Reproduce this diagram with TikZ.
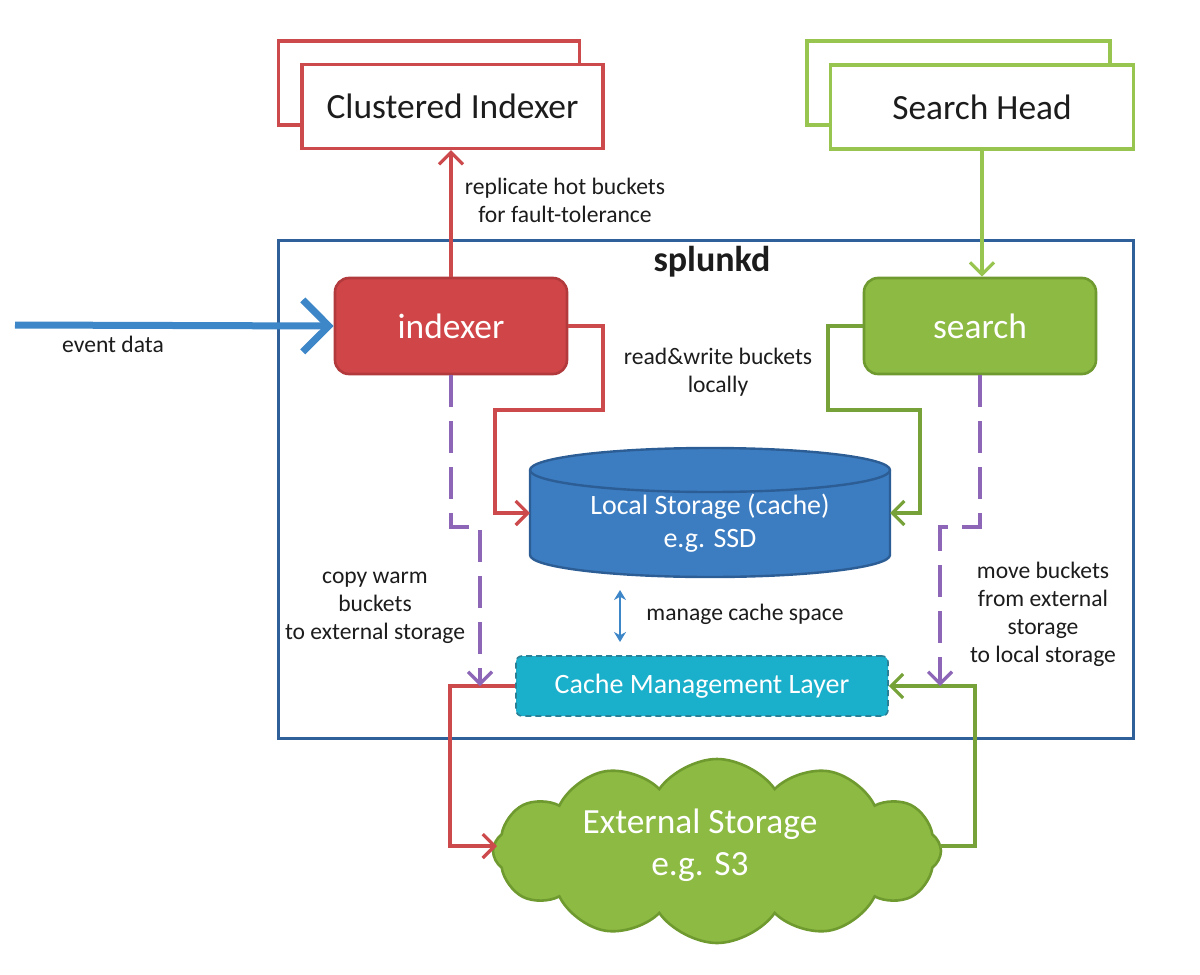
\documentclass[tikz,border=0pt]{standalone}
\usepackage{fontspec}
\setmainfont{Carlito}
\usetikzlibrary{arrows.meta,shapes.symbols,calc}
\definecolor{cred}{HTML}{CC4A4C}
\definecolor{credfill}{HTML}{D04547}
\definecolor{credline}{HTML}{B23A3C}
\definecolor{cgreen}{HTML}{77A23A}
\definecolor{cgreenlight}{HTML}{98C450}
\definecolor{cgreenfill}{HTML}{8DBA42}
\definecolor{cgreenline}{HTML}{6F9A30}
\definecolor{cblue}{HTML}{2F6099}
\definecolor{cevent}{HTML}{3D86C7}
\definecolor{ccyl}{HTML}{3C7CC1}
\definecolor{ccylline}{HTML}{2C5E95}
\definecolor{ccyan}{HTML}{1AAFCB}
\definecolor{ccyanline}{HTML}{2A8096}
\definecolor{cpurple}{HTML}{8D66B8}
\definecolor{ctext}{HTML}{1C1C1C}
\begin{document}
\begin{tikzpicture}[x=0.5pt,y=-0.5pt,
  every node/.style={inner sep=0pt, text=ctext},
  bigfont/.style={font=\fontsize{17.7}{21}\selectfont},
  midfont/.style={font=\fontsize{14}{16.5}\selectfont},
  smallfont/.style={font=\fontsize{11.8}{14}\selectfont},
  redbox/.style={draw=cred, line width=1.6pt, fill=white, minimum width=150.5pt, minimum height=42pt},
  greenbox/.style={draw=cgreenlight, line width=1.6pt, fill=white, minimum width=151.5pt, minimum height=42pt},
  procbox/.style={rounded corners=7pt, line width=1.3pt, minimum width=116pt, minimum height=48pt, bigfont, text=white},
  tip/.style={-{Straight Barb[length=6pt,width=12pt,line width=1.6pt]}},
  redarrow/.style={draw=cred, line width=1.7pt, tip},
  greenarrow/.style={draw=cgreen, line width=1.7pt, tip},
  lightgreenarrow/.style={draw=cgreenlight, line width=1.7pt, tip},
  purplearrow/.style={draw=cpurple, line width=2pt, dash pattern=on 16pt off 7pt, tip},
  label/.style={smallfont, align=center}
]
\useasboundingbox (0,0) rectangle (1200,975);

% splunkd container
\node[draw=cblue, line width=1.5pt, minimum width=427.5pt, minimum height=249pt] (splunkd) at (705.5,489) {};
\node[font=\fontsize{18}{20}\selectfont\bfseries] (splunkdlabel) at (712,262) {splunkd};

% top boxes
\node[redbox] (ciback) at (429,83) {};
\node[redbox, bigfont] (ci) at (452.5,106.5) {Clustered Indexer};
\node[greenbox] (shback) at (958.5,83) {};
\node[greenbox, bigfont] (sh) at (982,107) {Search Head};

% process boxes
\node[procbox, fill=credfill, draw=credline] (indexer) at (451,326) {indexer};
\node[procbox, fill=cgreenfill, draw=cgreenline] (search) at (980,326) {search};

% local storage cylinder
\fill[ccyl] (530,470) -- (530,555) arc[start angle=180,end angle=360,x radius=90pt,y radius=11pt] -- (890,470) arc[start angle=0,end angle=180,x radius=90pt,y radius=11pt] -- cycle;
\draw[ccylline, line width=1.2pt] (530,470) -- (530,555) arc[start angle=180,end angle=360,x radius=90pt,y radius=11pt] -- (890,470) arc[start angle=0,end angle=180,x radius=90pt,y radius=11pt] -- cycle;
\draw[ccylline, line width=1.2pt] (530,470) arc[start angle=180,end angle=360,x radius=90pt,y radius=11pt];
\node[midfont, text=white, align=center] (lstore) at (710,523) {Local Storage (cache)\\e.g. SSD};
\coordinate (lsL) at (530,513);
\coordinate (lsR) at (890,513);

% cache management layer
\node[fill=ccyan, draw=ccyanline, densely dashed, line width=0.8pt, rounded corners=3pt, minimum width=186pt, minimum height=30pt, midfont, text=white] (cml) at (702,686) {Cache Management Layer};

% external storage cloud
\node[cloud, cloud puffs=12, cloud puff arc=110, fill=cgreenfill, draw=cgreenline, line width=1.3pt, minimum width=224pt, minimum height=92pt] (cloud) at (717,851) {};
\node[bigfont, text=white, align=center] (cloudtext) at (700,845) {External Storage\\e.g. S3};
\coordinate (cloudL) at (497,846);
\coordinate (cloudR) at (940,846);

% helper coordinates
\coordinate (ra) at (603,410);
\coordinate (rb) at (495,513);
\coordinate (ga) at (828,410);
\coordinate (gb) at (920,513);
\coordinate (pa) at (480,527);
\coordinate (pb) at (480,686);
\coordinate (pc) at (940,527);
\coordinate (pd) at (940,686);
\coordinate (rc) at (450,846);
\coordinate (gc) at (975,686);
\coordinate (ma) at (620,590);
\coordinate (mb) at (620,642);
\coordinate (evs) at (15,325);

% connectors
\draw[redarrow] (indexer.north) -- (indexer.north |- ci.south);
\draw[lightgreenarrow] (sh.south) -- (sh.south |- search.north);
\draw[redarrow] (indexer.east) -| (ra) -| (rb) -- (lsL);
\draw[greenarrow] (search.west) -| (ga) -| (gb) -- (lsR);
\draw[redarrow] (cml.west) -| (rc) -- (cloudL);
\draw[greenarrow] (cloudR) -| (gc) -- (cml.east);
\draw[purplearrow] (indexer.south) |- (pa) -- (pb);
\draw[purplearrow] (search.south) |- (pc) -- (pd);
\draw[draw=cevent, line width=1.4pt, {Stealth[length=5pt,width=6pt]}-{Stealth[length=5pt,width=6pt]}] (ma) -- (mb);
\draw[draw=cevent, line width=3.5pt, -{Straight Barb[length=13pt,width=26pt,line width=3.5pt]}] (evs) -- (indexer.west);

% labels
\node[label] (lrep) at (565,200) {replicate hot buckets\\for fault-tolerance};
\node[label] (lrw) at (718,372) {read\&write buckets\\locally};
\node[label] (lcopy) at (375,608) {copy warm\\buckets\\to external storage};
\node[label] (lmove) at (1043,614) {move buckets\\from external\\storage\\to local storage};
\node[label] (lman) at (745,614) {manage cache space};
\node[label] (lev) at (113,344) {event data};
\end{tikzpicture}
\end{document}
